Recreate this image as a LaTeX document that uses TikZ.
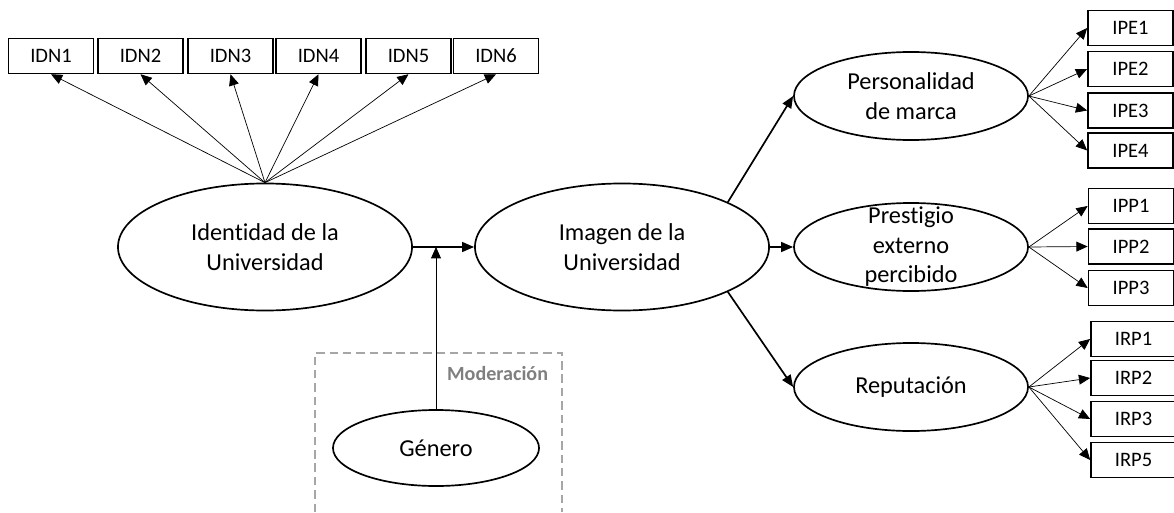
\documentclass[tikz,border=0pt]{standalone}
\usepackage{fontspec}
\setmainfont{Carlito}[Ligatures=NoCommon]
\usetikzlibrary{shapes.geometric,arrows.meta}

\definecolor{modgray}{HTML}{A6A6A6}
\definecolor{modtext}{HTML}{7F7F7F}

\tikzset{
  latent/.style={ellipse,draw,line width=1.2pt,inner sep=0pt,align=center,
    font=\fontsize{17.3}{21.3}\selectfont},
  bigvar/.style={latent,minimum width=7.35cm,minimum height=3.175cm},
  dimvar/.style={latent,minimum width=5.85cm,minimum height=2.2cm},
  manifest/.style={rectangle,draw,line width=1.2pt,minimum width=2.125cm,
    minimum height=0.87cm,inner sep=0pt,font=\fontsize{14.6}{16}\selectfont},
  load/.style={-{Triangle[length=8pt,width=7pt]},line width=0.5pt},
  effect/.style={-{Triangle[length=8.5pt,width=7pt]},line width=1.2pt},
  modbox/.style={draw=modgray,line width=1pt,dash pattern=on 6pt off 3.5pt}
}

\begin{document}
\begin{tikzpicture}[x=0.025cm,y=-0.025cm]
          \useasboundingbox (0,0) rectangle (1174,512);

          % constructs
          \node[bigvar] (idt) at (265,247) {Identidad de la\\Universidad};
          \node[bigvar] (img) at (622,247) {Imagen de la\\Universidad};
          \node[dimvar] (pers) at (911,96) {Personalidad\\de marca};
          \node[dimvar,label={[align=center,font=\fontsize{17.3}{21}\selectfont]center:{Prestigio\\externo\\percibido}}] (prest) at (911,247) {};
          \node[dimvar] (rep) at (911,387) {Reputación};

          % moderator
          \draw[modbox] (315,512) -- (315,353) -- (562,353) -- (562,512);
          \node[anchor=east,text=modtext,font=\bfseries\fontsize{14.3}{16}\selectfont] (modlbl) at (553,374) {Moderación};
          \node[latent,minimum width=5.15cm,minimum height=1.9cm] (gen) at (436,448) {Género};

          % indicators
          \foreach \i/\x in {1/51,2/140.5,3/230.5,4/318.5,5/408.5,6/496}
            \node[manifest] (idn\i) at (\x,56) {IDN\i};
          \foreach \i/\y in {1/28,2/69,3/110.5,4/150.5}
            \node[manifest] (ipe\i) at (1130.5,\y) {IPE\i};
          \foreach \i/\y in {1/206,2/246.5,3/288}
            \node[manifest] (ipp\i) at (1131,\y) {IPP\i};
          \foreach \i/\y in {1/339,2/378,3/419,5/460}
            \node[manifest] (irp\i) at (1133.5,\y) {IRP\i};

          \foreach \i in {1,...,6}
            \draw[load] (idt.north) -- (idn\i.south);
          \foreach \i in {1,...,4}
            \draw[load] (pers.east) -- (ipe\i.west);
          \foreach \i in {1,...,3}
            \draw[load] (prest.east) -- (ipp\i.west);
          \foreach \i in {1,2,3,5}
            \draw[load] (rep.east) -- (irp\i.west);

          \draw[effect] (idt.east) -- (img.west);
          \draw[load] (gen.north) -- (gen.north |- idt.east);
          \draw[effect] (img.23) -- (pers.west);
          \draw[effect] (img.east) -- (prest.west);
          \draw[effect] (img.-23) -- (rep.west);

      \end{tikzpicture}
\end{document}
